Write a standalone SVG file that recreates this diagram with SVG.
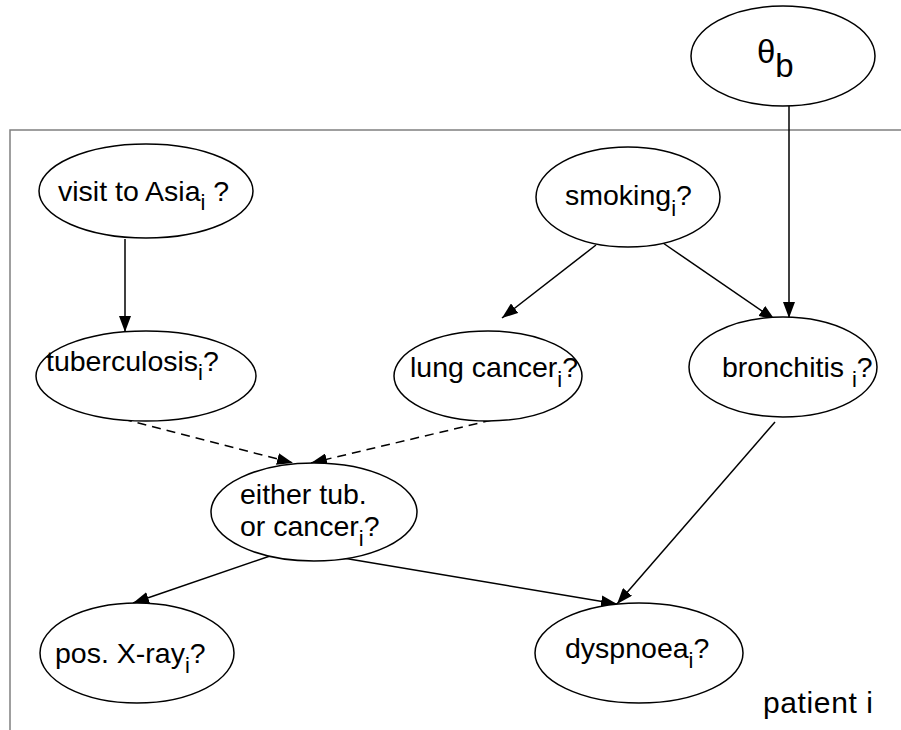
<svg xmlns="http://www.w3.org/2000/svg" width="901" height="730" viewBox="0 0 901 730">
  <defs>
    <marker id="arrow" viewBox="0 0 16 12" refX="16" refY="6" markerWidth="16" markerHeight="12" markerUnits="userSpaceOnUse" orient="auto">
      <path d="M0,0 L16,6 L0,12 Z" fill="#000"/>
    </marker>
    <style>
      .node ellipse { fill: #fff; stroke: #000; stroke-width: 1.5; }
      .node text, .label { font-family: "Liberation Sans", Arial, sans-serif; font-size: 28.5px; fill: #000; }
      .sub { font-size: 22px; }
      .edge { stroke: #000; stroke-width: 1.5; fill: none; marker-end: url(#arrow); }
      .dashed { stroke-dasharray: 9 6; }
      .plate { stroke: #808080; stroke-width: 1.5; fill: none; }
    </style>
  </defs>

  <rect width="901" height="730" fill="#fff"/>

  <!-- plate for patient i -->
  <g id="plate">
    <path class="plate" d="M10,730 L10,130 L901,130"/>
    <text class="label" x="763" y="713" textLength="110" style="font-size:30px">patient i</text>
  </g>

  <!-- connectors -->
  <g id="edges">
    <line class="edge" x1="789" y1="106" x2="789" y2="318"/>
    <line class="edge" x1="125" y1="239" x2="125" y2="332"/>
    <line class="edge" x1="596" y1="245" x2="502" y2="318"/>
    <line class="edge" x1="663" y1="243" x2="775" y2="320"/>
    <line class="edge dashed" x1="123" y1="419" x2="293" y2="463"/>
    <line class="edge dashed" x1="492" y1="420" x2="311" y2="463"/>
    <line class="edge" x1="775" y1="422" x2="617" y2="604"/>
    <line class="edge" x1="270" y1="556" x2="133" y2="603"/>
    <line class="edge" x1="337" y1="557" x2="617" y2="604"/>
  </g>

  <!-- nodes -->
  <g id="theta_b" class="node">
    <ellipse cx="783" cy="56" rx="92" ry="50"/>
    <text x="757" y="63" style="font-size:33px">θ<tspan dy="14">b</tspan></text>
  </g>

  <g id="asia" class="node">
    <ellipse cx="146" cy="191" rx="107" ry="47"/>
    <text x="58" y="201">visit to Asia<tspan class="sub" dy="9">i</tspan><tspan dy="-9"> ?</tspan></text>
  </g>

  <g id="smoking" class="node">
    <ellipse cx="628" cy="197" rx="92" ry="50"/>
    <text x="565" y="205">smoking<tspan class="sub" dy="11">i</tspan><tspan dy="-11">?</tspan></text>
  </g>

  <g id="tuberculosis" class="node">
    <ellipse cx="146" cy="376" rx="110" ry="45"/>
    <text x="46" y="371">tuberculosis<tspan class="sub" dy="9">i</tspan><tspan dy="-9">?</tspan></text>
  </g>

  <g id="lung_cancer" class="node">
    <ellipse cx="488" cy="376" rx="94" ry="45"/>
    <text x="410" y="377">lung cancer<tspan class="sub" dy="10">i</tspan><tspan dy="-10">?</tspan></text>
  </g>

  <g id="bronchitis" class="node">
    <ellipse cx="783" cy="367" rx="94" ry="50"/>
    <text x="722" y="377">bronchitis <tspan class="sub" dy="10">i</tspan><tspan dy="-10">?</tspan></text>
  </g>

  <g id="either" class="node">
    <ellipse cx="314" cy="512" rx="103" ry="49"/>
    <text x="240" y="504">either tub.</text>
    <text x="240" y="536">or cancer<tspan class="sub" dy="10">i</tspan><tspan dy="-10">?</tspan></text>
  </g>

  <g id="xray" class="node">
    <ellipse cx="137" cy="653" rx="97" ry="50"/>
    <text x="55" y="663">pos. X-ray<tspan class="sub" dy="10">i</tspan><tspan dy="-10">?</tspan></text>
  </g>

  <g id="dyspnoea" class="node">
    <ellipse cx="639" cy="653" rx="104" ry="50"/>
    <text x="565" y="658">dyspnoea<tspan class="sub" dy="10">i</tspan><tspan dy="-10">?</tspan></text>
  </g>
</svg>
